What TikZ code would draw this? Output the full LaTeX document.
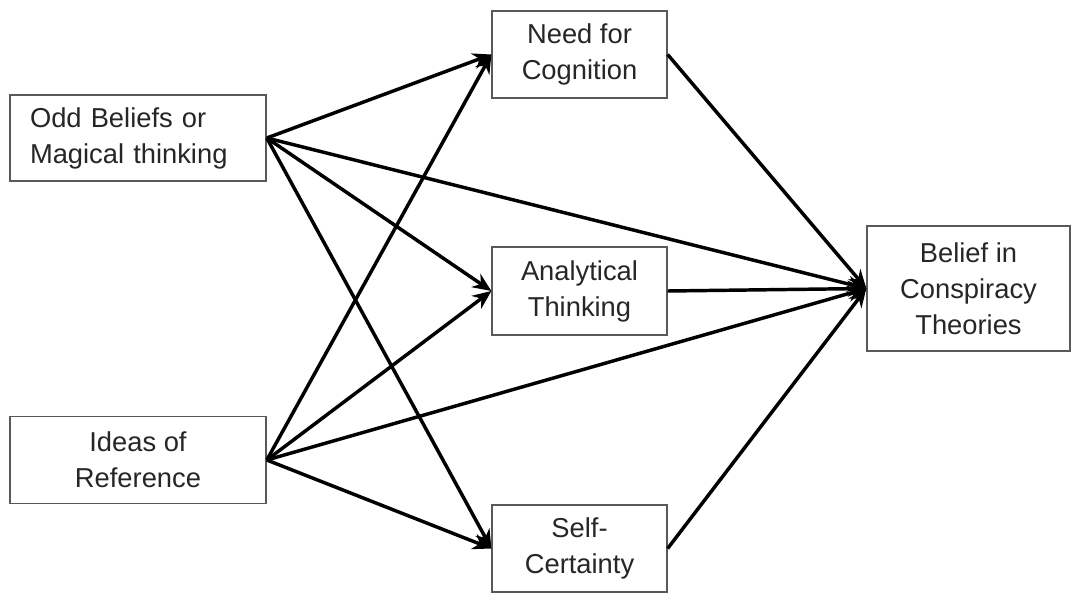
\documentclass[tikz,border=0pt]{standalone}
\usepackage{fontspec}
\setmainfont{Liberation Sans}
\usetikzlibrary{arrows.meta}

\begin{document}
\begin{tikzpicture}
[x=0.75pt,y=-0.75pt,%
  box/.style={draw=black!65,line width=1.2pt,fill=white,align=center,%
    inner sep=0pt,text=black!85,font=\fontsize{20.5}{27}\selectfont},%
  link/.style={-{Stealth[length=14pt,width=12pt]},line width=2.6pt}]
\useasboundingbox (0,0) rectangle (1071,593);
% predictors
\node[box,minimum width=192pt,minimum height=64.5pt,align=left,%
  text width=162pt] (odd) at (138,138) {Odd Beliefs or\\Magical thinking};
\node[box,minimum width=192pt,minimum height=65pt] (ideas) at (138,460)
  {Ideas of\\Reference};
% mediators
\node[box,minimum width=131pt,minimum height=65pt] (need) at (579.5,54.5)
  {Need for\\Cognition};
\node[box,minimum width=131pt,minimum height=66pt] (analytic) at (579.5,291)
  {Analytical\\Thinking};
\node[box,minimum width=131pt,minimum height=65pt] (certain) at (579.5,548.5)
  {Self-\\Certainty};
% outcome
\node[box,minimum width=152pt,minimum height=94pt] (belief) at (968.5,288.5)
  {Belief in\\Conspiracy\\Theories};
% paths
\foreach \src in {odd,ideas}{
  \foreach \dst in {need,analytic,certain}
    \draw[link] (\src.east) -- (\dst.west);
  \draw[link] (\src.east) -- (belief.west);
}
\foreach \mid in {need,analytic,certain}
  \draw[link] (\mid.east) -- (belief.west);
\end{tikzpicture}
\end{document}
